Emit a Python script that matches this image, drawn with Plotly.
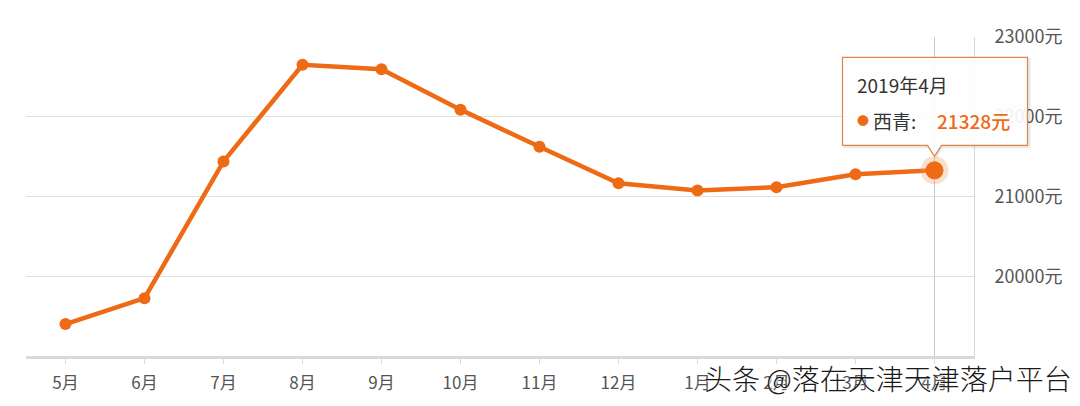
import plotly.graph_objects as go

months = ["5月", "6月", "7月", "8月", "9月", "10月", "11月", "12月", "1月", "2月", "3月", "4月"]
prices = [19400, 19725, 21440, 22652, 22595, 22089, 21623, 21166, 21075, 21116, 21280, 21328]
series_name = "西青"
tip_title = "2019年4月"
y_ticks = [19000, 20000, 21000, 22000, 23000]
y_tick_labels = ["", "20000元", "21000元", "22000元", "23000元"]
watermark = "头条 @落在天津天津落户平台"

ORANGE = "#ee6a15"
FONT = "Noto Sans CJK SC"
Y_MIN, Y_MAX = y_ticks[0], y_ticks[-1]

# tooltip anchor (last point) expressed as plot-area fractions so the box is not clipped
tip_idx = len(months) - 1
tip_xf = (tip_idx + 0.5) / len(months)
tip_yf = (prices[tip_idx] - Y_MIN) / (Y_MAX - Y_MIN)

fig = go.Figure()
fig.add_trace(go.Scatter(
    x=months, y=prices, mode="lines+markers",
    line=dict(color=ORANGE, width=4.5),
    marker=dict(color=ORANGE, size=12),
    hoverinfo="skip", showlegend=False,
))
# highlighted last point (halo + dot)
fig.add_trace(go.Scatter(
    x=[months[-1]], y=[prices[-1]], mode="markers",
    marker=dict(color="rgba(246,150,90,0.30)", size=28),
    hoverinfo="skip", showlegend=False,
))
fig.add_trace(go.Scatter(
    x=[months[-1]], y=[prices[-1]], mode="markers",
    marker=dict(color=ORANGE, size=18),
    hoverinfo="skip", showlegend=False,
))

shapes = [
    # axis pointer line
    dict(type="line", xref="x", yref="paper", x0=months[-1], x1=months[-1], y0=0, y1=1,
         line=dict(color="#c8c8c8", width=1), layer="below"),
    # tooltip shadow
    dict(type="path", xref="paper", yref="paper", xanchor=tip_xf, yanchor=tip_yf,
         xsizemode="pixel", ysizemode="pixel",
         path="M -91,112 L 96,112 L 96,22 L 8,22 L 2,12 L -4,22 L -91,22 Z",
         fillcolor="rgba(0,0,0,0.09)", line=dict(width=0), layer="above"),
    # tooltip box with caret
    dict(type="path", xref="paper", yref="paper", xanchor=tip_xf, yanchor=tip_yf,
         xsizemode="pixel", ysizemode="pixel",
         path="M -92,113 L 93,113 L 93,25 L 7,25 L 0,14 L -7,25 L -92,25 Z",
         fillcolor="rgba(255,255,255,0.92)", line=dict(color="#e0844a", width=1.2), layer="above"),
]

annotations = [
    dict(xref="x", yref="y", x=months[-1], y=prices[-1], xshift=-80, yshift=86,
         text=tip_title, showarrow=False, xanchor="left", yanchor="middle",
         font=dict(family=FONT, size=19, color="#333333")),
    dict(xref="x", yref="y", x=months[-1], y=prices[-1], xshift=-80, yshift=50,
         text="●", showarrow=False, xanchor="left", yanchor="middle",
         font=dict(family=FONT, size=12, color=ORANGE)),
    dict(xref="x", yref="y", x=months[-1], y=prices[-1], xshift=-64, yshift=50,
         text=series_name + ":", showarrow=False, xanchor="left", yanchor="middle",
         font=dict(family=FONT, size=19, color="#333333")),
    dict(xref="x", yref="y", x=months[-1], y=prices[-1], xshift=0, yshift=50,
         text=f"{prices[-1]}元", showarrow=False, xanchor="left", yanchor="middle",
         font=dict(family=FONT, size=19, color=ORANGE, weight=500)),
    dict(xref="paper", yref="paper", x=1.0 + 100 / 948, y=-0.068, xanchor="right", yanchor="middle",
         text=watermark, showarrow=False,
         font=dict(family=FONT, size=28, color="#1a1a1a", weight=300,
                   shadow="1px 1px 1px #ffffff")),
]

# the page body has an 8px default margin; size the figure to compensate
fig.update_layout(
    width=1072, height=398,
    margin=dict(l=18, r=106, t=29, b=46),
    paper_bgcolor="white", plot_bgcolor="white",
    font=dict(family=FONT, color="#555555"),
    shapes=shapes, annotations=annotations,
    xaxis=dict(
        type="category", range=[-0.5, len(months) - 0.5],
        showgrid=False, showline=True, linecolor="#d9d9d9", linewidth=2.5,
        ticks="outside", ticklen=5, tickcolor="#d9d9d9",
        tickfont=dict(size=17, color="#555555"), zeroline=False,
        ticklabelstandoff=5,
    ),
    yaxis=dict(
        side="right", range=[Y_MIN, Y_MAX],
        tickvals=y_ticks, ticktext=y_tick_labels,
        showgrid=True, gridcolor="#e0e0e0", gridwidth=1,
        showline=True, linecolor="#d9d9d9", linewidth=1, mirror=False,
        ticks="", tickfont=dict(size=18, color="#555555"),
        ticklabelstandoff=16, zeroline=False,
    ),
)

fig.write_html("out.html")
